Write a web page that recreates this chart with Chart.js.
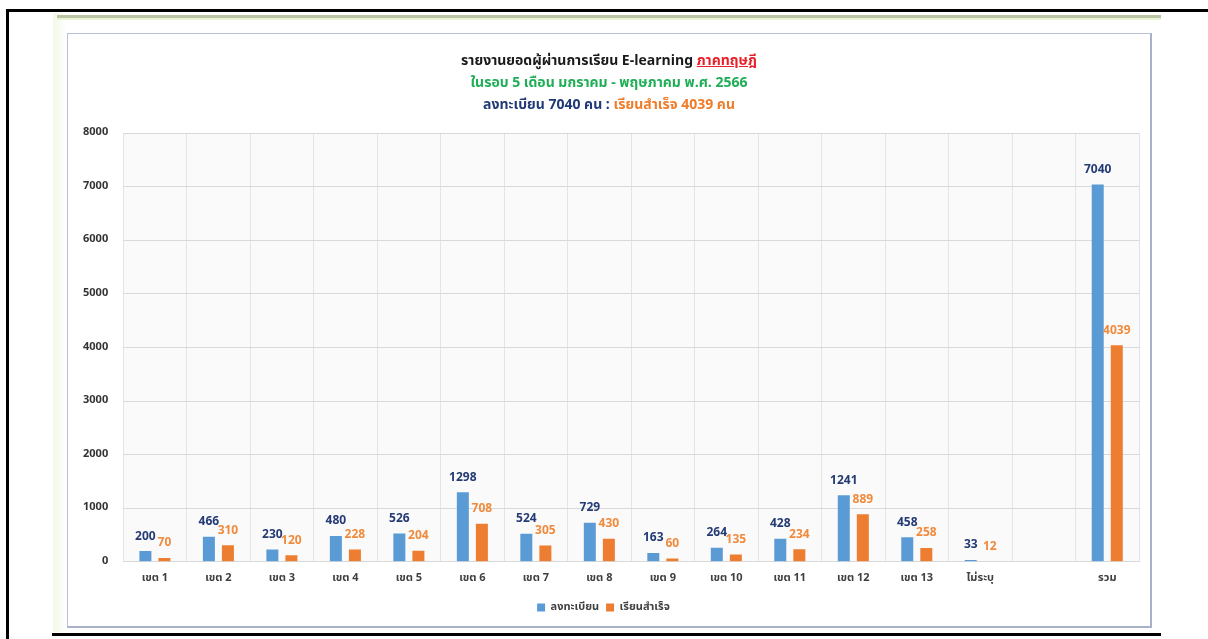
<!DOCTYPE html>
<html>
<head>
<meta charset="utf-8">
<script src="https://cdn.jsdelivr.net/npm/chart.js@4"></script>
<style>
  body { margin: 0; background: #fff; width: 1208px; height: 639px; overflow: hidden; position: relative;
         font-family: "Noto Sans Thai", "Noto Sans", sans-serif; }
  .blk { position: absolute; background: #000; }
  #sheet { position: absolute; left: 53px; top: 13px; width: 1108px; height: 619px;
           background: linear-gradient(to right, #f3f9e6 0px, #fff 14px); }
  #rule { position: absolute; left: 4px; top: 2px; width: 1104px; height: 3px;
          background: #b9c3a6; border-bottom: 2px solid #eaf3d6; }
  #box { position: absolute; left: 14px; top: 20px; width: 1082px; height: 592px;
         border: 1px solid #b8c0dc; border-right: 2px solid #a9b1c9; border-bottom: 2px solid #a9b1c9; background: #fff; }
  #title { position: absolute; left: 0; top: 16px; width: 100%; text-align: center;
           font-weight: bold; font-size: 14px; line-height: 22px; }
  #chart-wrap { position: absolute; left: 0; top: 0; width: 1082px; height: 592px; }
</style>
</head>
<body>
<div class="blk" style="left:6px;top:9px;width:1202px;height:3px;"></div>
<div class="blk" style="left:6px;top:9px;width:3px;height:630px;"></div>
<div class="blk" style="left:52px;top:633px;width:1109px;height:3px;"></div>
<div id="sheet">
  <div id="rule"></div>
  <div id="box">
    <div id="chart-wrap"><canvas id="bar-chart" width="1082" height="592"></canvas></div>
    <div id="title">
      <div><span style="color:#1a1a1a">รายงานยอดผู้ผ่านการเรียน E-learning </span><span style="color:#e8202a;text-decoration:underline">ภาคทฤษฎี</span></div>
      <div style="color:#1fae55">ในรอบ 5 เดือน มกราคม - พฤษภาคม พ.ศ. 2566</div>
      <div><span style="color:#203a78">ลงทะเบียน 7040 คน</span><span style="color:#203a78"> : </span><span style="color:#f07c2a">เรียนสำเร็จ 4039 คน</span></div>
    </div>
  </div>
</div>
<script>
// Data
const categories = ['เขต 1', 'เขต 2', 'เขต 3', 'เขต 4', 'เขต 5', 'เขต 6', 'เขต 7', 'เขต 8', 'เขต 9',
                    'เขต 10', 'เขต 11', 'เขต 12', 'เขต 13', 'ไม่ระบุ', '', 'รวม'];
const registered = [200, 466, 230, 480, 526, 1298, 524, 729, 163, 264, 428, 1241, 458, 33, null, 7040];
const completed = [70, 310, 120, 228, 204, 708, 305, 430, 60, 135, 234, 889, 258, 12, null, 4039];
const yTicks = [0, 1000, 2000, 3000, 4000, 5000, 6000, 7000, 8000];

const FONT = '"Noto Sans Thai", "Noto Sans", sans-serif';

// value labels above each bar
const valueLabels = {
    id: 'valueLabels',
    afterDatasetsDraw(chart) {
        const ctx = chart.ctx;
        ctx.save();
        ctx.font = 'bold 12px ' + FONT;
        ctx.textAlign = 'center';
        ctx.textBaseline = 'middle';
        chart.data.datasets.forEach((ds, i) => {
            const meta = chart.getDatasetMeta(i);
            ctx.fillStyle = ds.labelColor;
            meta.data.forEach((bar, j) => {
                const v = ds.data[j];
                if (v === null || v === undefined) return;
                ctx.fillText(String(v), bar.x, bar.y - 14);
            });
        });
        ctx.restore();
    }
};

// light fill behind the plot
const plotFill = {
    id: 'plotFill',
    beforeDraw(chart) {
        const a = chart.chartArea;
        chart.ctx.save();
        chart.ctx.fillStyle = '#fafafa';
        chart.ctx.fillRect(a.left, a.top, a.right - a.left, a.bottom - a.top);
        chart.ctx.restore();
    }
};

document.addEventListener('DOMContentLoaded', function () {
    const canvas = document.getElementById('bar-chart').getContext('2d');
    new Chart(canvas, {
        type: 'bar',
        data: {
            labels: categories,
            datasets: [
                {
                    label: 'ลงทะเบียน',
                    data: registered,
                    backgroundColor: '#5b9bd5',
                    labelColor: '#233a74',
                    categoryPercentage: 0.6,
                    barPercentage: 0.63,
                },
                {
                    label: 'เรียนสำเร็จ',
                    data: completed,
                    backgroundColor: '#ed7d31',
                    labelColor: '#f08a3c',
                    categoryPercentage: 0.6,
                    barPercentage: 0.63,
                },
            ],
        },
        options: {
            responsive: false,
            animation: false,
            maintainAspectRatio: false,
            layout: { padding: { top: 99, right: 11, bottom: 3, left: 0 } },
            plugins: {
                legend: {
                    position: 'bottom',
                    labels: {
                        boxWidth: 8, boxHeight: 8, padding: 7,
                        color: '#404040',
                        font: { family: FONT, size: 11, weight: 'bold' },
                    },
                },
                tooltip: { enabled: false },
            },
            scales: {
                x: {
                    grid: { color: '#e4e4e4', drawTicks: false },
                    border: { color: '#d9d9d9' },
                    ticks: { padding: 10, color: '#404040', font: { family: FONT, size: 11, weight: 'bold' } },
                },
                y: {
                    min: 0, max: 8000,
                    afterBuildTicks(axis) { axis.ticks = yTicks.map(v => ({ value: v })); },
                    grid: { color: '#d9d9d9', drawTicks: false },
                    border: { display: false },
                    ticks: {
                        padding: 15, color: '#333',
                        font: { family: FONT, size: 11, weight: 'bold' },
                        callback: v => String(v),
                    },
                },
            },
        },
        plugins: [plotFill, valueLabels],
    });
});
</script>
</body>
</html>
